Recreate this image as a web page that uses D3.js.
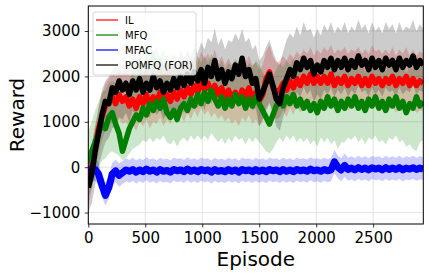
<!DOCTYPE html>
<html>
<head>
<meta charset="utf-8">
<script src="https://cdn.jsdelivr.net/npm/d3@7/dist/d3.min.js"></script>
<style>
  body { margin: 0; background: #fff; }
  text { font-family: "DejaVu Sans", sans-serif; fill: #000; }
</style>
</head>
<body>
<div id="chart"></div>
<script>
// episodes sampled every 30 steps (0 .. 2940)
var episodes = d3.range(0, 2941, 30);

var xTicks = [0, 500, 1000, 1500, 2000, 2500];
var yTicks = [-1000, 0, 1000, 2000, 3000];

var seriesNames = ["IL", "MFQ", "MFAC", "POMFQ (FOR)"];
var seriesColors = ["#ff0000", "#008000", "#0000ff", "#000000"];
var lineWidths = [5.5, 5.5, 7, 5.5];

// IL
var ilMean = [-350, 50, 450, 850, 1100, 1350, 1450, 1550, 1400, 1600, 1450,
  1550, 1350, 1500, 1300, 1550, 1400, 1600, 1350, 1550, 1450, 1650, 1400, 1600, 1450, 1650, 1500, 1700, 1550, 1750, 1600, 1800, 1650, 1900,
  1700, 1850, 1650, 1800, 1600, 1750, 1550, 1700, 1500, 1650, 1450, 1700, 1550, 1750, 1500, 1650,
  1450, 1600, 1950, 2100, 1750, 1650, 1700, 1850, 1700,
  1900, 1750, 1950, 1800, 2000, 1850, 2050, 1850, 2000, 1850, 2000, 1850, 2050, 1800, 1950, 1850, 2000, 1800, 1950, 1850,
  2000, 1800, 1950, 1800, 2000, 1850, 1950, 1800, 1950, 1850, 2000, 1800, 1950, 1850, 2000, 1800, 1950, 1800, 1900, 1850];
var ilHigh = [100, 500, 900, 1300, 1600, 1850, 1950, 2050, 2000, 2150, 2050,
  2150, 2000, 2100, 1950, 2150, 2050, 2200, 2000, 2200, 2100, 2300, 2050, 2250, 2100, 2300, 2150, 2350, 2200, 2400, 2250, 2450, 2300, 2550,
  2400, 2500, 2350, 2600, 2300, 2450, 2250, 2400, 2250, 2350, 2200, 2400, 2300, 2450, 2250, 2300,
  2150, 2250, 2550, 2700, 2450, 2300, 2350, 2450, 2350,
  2500, 2400, 2550, 2450, 2600, 2500, 2650, 2450, 2600, 2500, 2650, 2550, 2700, 2500, 2600, 2550, 2650, 2500, 2600, 2550,
  2650, 2500, 2600, 2500, 2700, 2550, 2600, 2500, 2600, 2500, 2650, 2450, 2600, 2500, 2650, 2450, 2600, 2450, 2550, 2500];
var ilLow = [-900, -500, -100, 300, 600, 800, 900, 1000, 900, 1050, 950,
  1000, 850, 950, 800, 1000, 900, 1050, 850, 1000, 950, 1100, 900, 1050, 950, 1100, 1000, 1150, 1000, 1200, 1050, 1250, 1100, 1300,
  1150, 1250, 1100, 1200, 1050, 1150, 1000, 1100, 950, 1050, 900, 1100, 1000, 1150, 950, 1050,
  900, 1000, 1300, 1450, 1150, 1050, 1100, 1250, 1100,
  1300, 1150, 1350, 1200, 1400, 1250, 1400, 1250, 1350, 1250, 1400, 1300, 1450, 1250, 1350, 1300, 1400, 1250, 1350, 1300,
  1400, 1250, 1350, 1250, 1400, 1300, 1350, 1250, 1300, 1250, 1350, 1200, 1300, 1250, 1350, 1200, 1300, 1200, 1250, 1250];

// MFQ
var mfqMean = [100, 350, 550, 750, 950, 850, 1100, 1200, 950, 750, 350,
  600, 850, 1000, 1150, 1050, 1300, 1150, 1400, 1250, 1450, 1300, 1500, 1200, 1100, 1250, 1050, 1300, 1400, 1250, 1500, 1350, 1600, 1400,
  1650, 1450, 1700, 1500, 1350, 1550, 1300, 1500, 1350, 1600, 1400, 1550, 1300, 1500, 1350, 1550,
  1400, 1250, 1100, 950, 1150, 1350, 1500, 1350, 1550,
  1400, 1600, 1350, 1500, 1300, 1450, 1250, 1400, 1200, 1450, 1300, 1550, 1350, 1500, 1250, 1450, 1300, 1500, 1350, 1550,
  1300, 1450, 1250, 1500, 1350, 1550, 1300, 1450, 1250, 1500, 1350, 1550, 1300, 1450, 1200, 1400, 1300, 1550, 1350, 1450];
var mfqHigh = [800, 1000, 1250, 1450, 1650, 1700, 1850, 1900, 1850, 1700, 1500,
  1650, 1900, 2150, 2350, 2450, 2650, 2500, 2750, 2550, 2650, 2450, 2600, 2300, 2200, 2300, 2150, 2300, 2400, 2250, 2400, 2300, 2450, 2300,
  2450, 2300, 2500, 2350, 2200, 2350, 2150, 2300, 2200, 2400, 2250, 2350, 2150, 2300, 2200, 2350,
  2250, 2100, 1950, 1850, 2000, 2150, 2300, 2200, 2350,
  2250, 2400, 2200, 2300, 2150, 2300, 2100, 2250, 2050, 2300, 2150, 2350, 2200, 2300, 2100, 2300, 2150, 2300, 2200, 2350,
  2150, 2300, 2100, 2300, 2200, 2350, 2150, 2300, 2100, 2300, 2200, 2350, 2150, 2300, 2050, 2250, 2150, 2350, 2200, 2300];
var mfqLow = [-700, -450, -200, 0, 150, 200, 300, 350, 300, 250, 150,
  200, 300, 400, 450, 500, 600, 550, 650, 550, 650, 600, 700, 550, 500, 600, 450, 600, 650, 550, 700, 600, 700, 600,
  700, 600, 750, 650, 550, 650, 500, 650, 550, 700, 600, 650, 500, 650, 550, 650,
  550, 450, 350, 300, 400, 550, 650, 550, 700,
  600, 700, 550, 650, 550, 650, 500, 600, 450, 650, 550, 650, 500, 600, 400, 550, 550, 650, 600, 700,
  550, 650, 500, 650, 600, 700, 550, 600, 500, 650, 600, 700, 550, 600, 450, 500, 400, 350, 550, 600];

// MFAC
var mfacMean = [-60, -40, -50, -150, -400, -620, -450, -150, -80, -180, -120,
  -60, -90, -50, -110, -60, -100, -40, -90, -60, -110, -50, -90, -70, -110, -50, -80, -60, -100, -40, -90, -60, -100, -50,
  -80, -60, -110, -50, -90, -70, -100, -50, -90, -60, -110, -50, -80, -60, -100, -50,
  -90, -60, -100, -50, -80, -60, -100, -50, -90,
  -60, -100, -50, -80, -60, -90, -40, -80, -60, -90, -50, -80, -60, 120, 0, -60, 40, -50, -20, -60,
  -10, -50, -20, -60, -10, -40, -20, -60, -10, -50, -20, -50, -10, -60, -20, -40, -10, -50, -20, -40];
var mfacHigh = [150, 200, 200, 100, -150, -350, -200, 100, 170, 80, 130,
  200, 160, 210, 150, 190, 160, 220, 170, 200, 150, 210, 170, 190, 150, 210, 180, 200, 160, 220, 170, 200, 160, 210,
  180, 200, 150, 210, 170, 190, 160, 210, 170, 200, 150, 210, 180, 200, 160, 210,
  170, 200, 160, 210, 180, 200, 160, 210, 170,
  200, 160, 210, 180, 200, 170, 220, 180, 200, 170, 210, 180, 200, 380, 260, 200, 300, 210, 240, 200,
  250, 210, 240, 200, 250, 220, 240, 200, 250, 210, 240, 210, 250, 200, 240, 220, 250, 210, 240, 220];
var mfacLow = [-350, -300, -300, -400, -650, -850, -700, -400, -330, -430, -370,
  -310, -340, -300, -360, -310, -350, -290, -340, -310, -360, -300, -340, -320, -360, -300, -330, -310, -350, -290, -340, -310, -350, -300,
  -330, -310, -360, -300, -340, -320, -350, -300, -340, -310, -360, -300, -330, -310, -350, -300,
  -340, -310, -350, -300, -330, -310, -350, -300, -340,
  -310, -350, -300, -330, -310, -340, -290, -330, -310, -340, -300, -330, -310, -130, -250, -310, -210, -300, -270, -310,
  -260, -300, -270, -310, -260, -290, -270, -310, -260, -300, -270, -300, -260, -310, -270, -290, -260, -300, -270, -290];

// POMFQ (FOR)
var pomfqMean = [-450, -150, 350, 750, 1150, 1450, 1400, 1750, 1650, 1900, 1700,
  1850, 1600, 1900, 1700, 1950, 1650, 1850, 1700, 2000, 1750, 1900, 1650, 1850, 1700, 1950, 1750, 2000, 1800, 2050, 1850, 2100, 1900, 2150,
  1850, 2200, 2000, 2350, 1950, 2150, 1850, 2100, 1950, 2250, 2050, 2400, 2000, 2150, 1850, 1950,
  1500, 1650, 1850, 2050, 1800, 1500, 1400, 1750, 1950,
  2150, 2000, 2300, 2150, 2400, 2200, 2350, 2050, 2250, 2100, 2350, 2200, 2400, 2150, 2350, 2200, 2400, 2150, 2350, 2200,
  2450, 2250, 2350, 2150, 2400, 2200, 2350, 2150, 2400, 2250, 2350, 2150, 2400, 2200, 2350, 2250, 2450, 2200, 2350, 2250];
var pomfqHigh = [200, 500, 900, 1300, 1700, 1900, 2000, 2150, 2200, 2300, 2250,
  2350, 2200, 2400, 2300, 2450, 2250, 2400, 2350, 2550, 2300, 2450, 2250, 2400, 2350, 2500, 2300, 2550, 2400, 2600, 2450, 2650, 2500, 2750,
  2600, 2850, 2750, 3050, 2700, 2850, 2600, 2800, 2750, 2950, 2800, 3050, 2750, 2850, 2600, 2700,
  2350, 2450, 2650, 2800, 2550, 2350, 2250, 2550, 2800,
  2950, 2850, 3100, 2900, 3200, 3000, 3050, 2850, 3050, 2900, 3150, 3000, 3200, 2950, 3100, 3000, 3200, 2950, 3100, 3000,
  3250, 3050, 3150, 2950, 3200, 3000, 3100, 2950, 3200, 3050, 3150, 2950, 3200, 3000, 3100, 3050, 3250, 3000, 3150, 3050];
var pomfqLow = [-1000, -800, -400, 0, 300, 550, 650, 850, 900, 1100, 1050,
  1200, 1000, 1250, 1100, 1300, 1050, 1200, 1100, 1350, 1150, 1250, 1050, 1200, 1100, 1300, 1150, 1350, 1200, 1400, 1250, 1450, 1300, 1500,
  1250, 1550, 1400, 1700, 1350, 1500, 1250, 1450, 1350, 1600, 1450, 1750, 1400, 1500, 1250, 1300,
  900, 1050, 1250, 1400, 1200, 900, 800, 1100, 1300,
  1500, 1400, 1650, 1550, 1750, 1600, 1700, 1450, 1600, 1500, 1700, 1600, 1750, 1550, 1700, 1600, 1750, 1550, 1700, 1600,
  1800, 1650, 1700, 1550, 1750, 1600, 1700, 1550, 1750, 1650, 1700, 1550, 1750, 1600, 1700, 1650, 1800, 1600, 1700, 1650];

var width = 429,
  height = 276;
var plotLeft = 88.3, plotRight = 423.3, plotTop = 6, plotBottom = 224;

var svg = d3.select("#chart")
  .append("svg")
  .attr("width", width)
  .attr("height", height)

var x = d3.scaleLinear().domain([0, 2940]).range([plotLeft, plotRight])
var y = d3.scaleLinear().domain([-1251, 3551]).range([plotBottom, plotTop])

svg.append("clipPath").attr("id", "plotclip")
  .append("rect")
  .attr("x", plotLeft).attr("y", plotTop)
  .attr("width", plotRight - plotLeft).attr("height", plotBottom - plotTop)

// grid
svg.append("g").selectAll("line")
  .data(xTicks).enter().append("line")
  .attr("x1", d => x(d)).attr("x2", d => x(d))
  .attr("y1", plotTop).attr("y2", plotBottom)
  .attr("stroke", "#dcdcdc").attr("stroke-width", 0.8)
svg.append("g").selectAll("line")
  .data(yTicks).enter().append("line")
  .attr("x1", plotLeft).attr("x2", plotRight)
  .attr("y1", d => y(d)).attr("y2", d => y(d))
  .attr("stroke", "#dcdcdc").attr("stroke-width", 0.8)

var series = [
  { name: seriesNames[0], color: seriesColors[0], w: lineWidths[0], mean: ilMean, hi: ilHigh, lo: ilLow },
  { name: seriesNames[1], color: seriesColors[1], w: lineWidths[1], mean: mfqMean, hi: mfqHigh, lo: mfqLow },
  { name: seriesNames[2], color: seriesColors[2], w: lineWidths[2], mean: mfacMean, hi: mfacHigh, lo: mfacLow },
  { name: seriesNames[3], color: seriesColors[3], w: lineWidths[3], mean: pomfqMean, hi: pomfqHigh, lo: pomfqLow }
];

var plot = svg.append("g").attr("clip-path", "url(#plotclip)")

var area = d3.area()
  .x((d, i) => x(episodes[i]))
  .y0(d => y(d[0]))
  .y1(d => y(d[1]))

var line = d3.line()
  .x((d, i) => x(episodes[i]))
  .y(d => y(d))

series.forEach(function(s) {
  plot.append("path")
    .datum(s.lo.map((v, i) => [v, s.hi[i]]))
    .attr("d", area)
    .attr("fill", s.color)
    .attr("fill-opacity", 0.2)
})

series.forEach(function(s) {
  plot.append("path")
    .datum(s.mean)
    .attr("d", line)
    .attr("fill", "none")
    .attr("stroke", s.color)
    .attr("stroke-width", s.w)
    .attr("stroke-linejoin", "round")
})

// axes
var fmt = d => d < 0 ? "\u2212" + Math.abs(d) : "" + d;

var xAxis = svg.append("g")
  .attr("transform", "translate(0," + plotBottom + ")")
  .call(d3.axisBottom(x).tickValues(xTicks).tickSize(3.5).tickPadding(4.5).tickFormat(fmt))
var yAxis = svg.append("g")
  .attr("transform", "translate(" + plotLeft + ",0)")
  .call(d3.axisLeft(y).tickValues(yTicks).tickSize(3.5).tickPadding(4.5).tickFormat(fmt))

svg.selectAll(".domain").remove()
svg.selectAll(".tick line").attr("stroke", "#000").attr("stroke-width", 0.8)
svg.selectAll(".tick text").style("font-size", "15px").style("font-family", "DejaVu Sans")

svg.append("rect")
  .attr("x", plotLeft).attr("y", plotTop)
  .attr("width", plotRight - plotLeft).attr("height", plotBottom - plotTop)
  .attr("fill", "none").attr("stroke", "#000").attr("stroke-width", 1)

svg.append("text")
  .attr("transform", "translate(24," + ((plotTop + plotBottom) / 2) + ") rotate(-90)")
  .attr("text-anchor", "middle")
  .style("font-size", "20px")
  .text("Reward")

svg.append("text")
  .attr("x", (plotLeft + plotRight) / 2)
  .attr("y", 266)
  .attr("text-anchor", "middle")
  .style("font-size", "20px")
  .text("Episode")

// legend
var legend = svg.append("g")
legend.append("rect")
  .attr("x", 93).attr("y", 12)
  .attr("width", 103).attr("height", 63)
  .attr("rx", 2)
  .attr("fill", "#fff").attr("fill-opacity", 0.8)
  .attr("stroke", "#cccccc").attr("stroke-width", 0.8)

var rows = legend.selectAll(".row")
  .data(series)
  .enter().append("g")
  .attr("class", "row")
  .attr("transform", (d, i) => "translate(0," + (20 + i * 15) + ")")

rows.append("line")
  .attr("x1", 96).attr("x2", 118)
  .attr("y1", 0).attr("y2", 0)
  .attr("stroke", d => d.color)
  .attr("stroke-opacity", 0.8)
  .attr("stroke-width", 1.5)

rows.append("text")
  .attr("x", 125)
  .attr("y", 0)
  .attr("dy", "0.35em")
  .style("font-size", "10px")
  .text(d => d.name)
</script>
</body>
</html>
